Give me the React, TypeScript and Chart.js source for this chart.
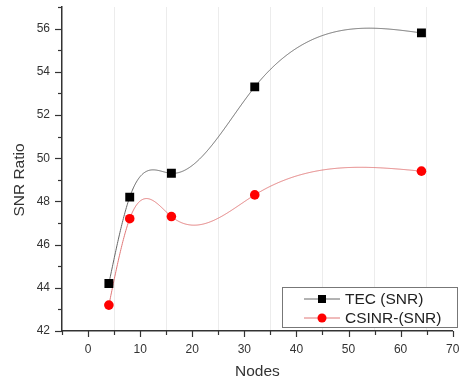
import React, { useEffect, useRef } from "react";
import { Chart, registerables } from "chart.js";

Chart.register(...registerables);

const nodes = [4, 8, 16, 32, 64];
const tecSNR = [44.2, 48.2, 49.3, 53.3, 55.8];
const csinrSNR = [43.2, 47.2, 47.3, 48.3, 49.4];
const seriesLabels = ["TEC (SNR)", "CSINR-(SNR)"];
const xTitle = "Nodes";
const yTitle = "SNR Ratio";

const FONT = "Arial, 'Liberation Sans', sans-serif";

function naturalSpline(xs: number[], ys: number[]) {
  const n = xs.length;
  const h: number[] = [];
  for (let i = 0; i < n - 1; i++) h.push(xs[i + 1] - xs[i]);
  const a: number[] = new Array(n).fill(0);
  const b: number[] = new Array(n).fill(1);
  const c: number[] = new Array(n).fill(0);
  const d: number[] = new Array(n).fill(0);
  for (let i = 1; i < n - 1; i++) {
    a[i] = h[i - 1];
    b[i] = 2 * (h[i - 1] + h[i]);
    c[i] = h[i];
    d[i] = 6 * ((ys[i + 1] - ys[i]) / h[i] - (ys[i] - ys[i - 1]) / h[i - 1]);
  }
  const cp = new Array(n).fill(0);
  const dp = new Array(n).fill(0);
  cp[0] = c[0] / b[0];
  dp[0] = d[0] / b[0];
  for (let i = 1; i < n; i++) {
    const m = b[i] - a[i] * cp[i - 1];
    cp[i] = c[i] / m;
    dp[i] = (d[i] - a[i] * dp[i - 1]) / m;
  }
  const M = new Array(n).fill(0);
  M[n - 1] = dp[n - 1];
  for (let i = n - 2; i >= 0; i--) M[i] = dp[i] - cp[i] * M[i + 1];
  return (x: number) => {
    let i = 0;
    while (i < n - 2 && x > xs[i + 1]) i++;
    const hi = h[i];
    const A = (xs[i + 1] - x) / hi;
    const B = (x - xs[i]) / hi;
    return (
      A * ys[i] +
      B * ys[i + 1] +
      ((A * A * A - A) * M[i] + (B * B * B - B) * M[i + 1]) * (hi * hi) / 6
    );
  };
}

const splinePlugin = {
  id: "splineLines",
  beforeDatasetsDraw(chart: any) {
    const ctx = chart.ctx;
    const area = chart.chartArea;
    ctx.save();
    ctx.beginPath();
    ctx.rect(area.left, area.top, area.right - area.left, area.bottom - area.top);
    ctx.clip();
    chart.data.datasets.forEach((ds: any, i: number) => {
      const meta = chart.getDatasetMeta(i);
      const pts = meta.data.map((p: any) => ({ x: p.x, y: p.y }));
      if (pts.length < 2) return;
      const f = naturalSpline(
        pts.map((p: any) => p.x),
        pts.map((p: any) => p.y)
      );
      ctx.beginPath();
      ctx.strokeStyle = ds.lineColor;
      ctx.lineWidth = 1;
      const x0 = pts[0].x;
      const x1 = pts[pts.length - 1].x;
      ctx.moveTo(x0, pts[0].y);
      for (let x = x0; x <= x1; x += 0.5) ctx.lineTo(x, f(x));
      ctx.lineTo(x1, pts[pts.length - 1].y);
      ctx.stroke();
    });
    ctx.restore();
  },
};

const decorPlugin = {
  id: "decor",
  afterDraw(chart: any) {
    const ctx = chart.ctx;
    const area = chart.chartArea;
    const xs = chart.scales.x;
    const ys = chart.scales.y;
    ctx.save();
    ctx.strokeStyle = "#333";
    ctx.lineWidth = 1.2;
    for (let v = ys.min; v <= ys.max + 1e-9; v += 1) {
      const y = Math.round(ys.getPixelForValue(v)) + 0.5;
      const len = v % 2 === 0 ? 7 : 4;
      ctx.beginPath();
      ctx.moveTo(area.left - len, y);
      ctx.lineTo(area.left, y);
      ctx.stroke();
    }
    for (let v = xs.min; v <= xs.max + 1e-9; v += 5) {
      const x = Math.round(xs.getPixelForValue(v)) + 0.5;
      const len = v % 10 === 0 ? 6 : 4;
      ctx.beginPath();
      ctx.moveTo(x, area.bottom);
      ctx.lineTo(x, area.bottom + len);
      ctx.stroke();
    }
    ctx.fillStyle = "#333";
    ctx.font = `15.5px ${FONT}`;
    ctx.textAlign = "center";
    ctx.textBaseline = "middle";
    ctx.fillText(xTitle, (area.left + area.right) / 2, 372);
    ctx.save();
    ctx.translate(20, 180);
    ctx.rotate(-Math.PI / 2);
    ctx.fillText(yTitle, 0, 0);
    ctx.restore();

    const lx = 282, ly = 287, lw = 175, lh = 40;
    ctx.fillStyle = "#fff";
    ctx.fillRect(lx, ly, lw, lh);
    ctx.strokeStyle = "#777";
    ctx.lineWidth = 1;
    ctx.strokeRect(lx + 0.5, ly + 0.5, lw, lh);
    chart.data.datasets.forEach((ds: any, i: number) => {
      const y = ly + 12 + i * 19;
      ctx.strokeStyle = ds.lineColor;
      ctx.lineWidth = 1;
      ctx.beginPath();
      ctx.moveTo(304, y);
      ctx.lineTo(340, y);
      ctx.stroke();
      ctx.fillStyle = ds.pointBackgroundColor;
      if (ds.pointStyle === "rect") {
        ctx.fillRect(322 - 4, y - 4, 8, 8);
      } else {
        ctx.beginPath();
        ctx.arc(322, y, 4.5, 0, Math.PI * 2);
        ctx.fill();
      }
      ctx.fillStyle = "#222";
      ctx.font = `15.5px ${FONT}`;
      ctx.textAlign = "left";
      ctx.textBaseline = "middle";
      ctx.fillText(ds.label, 345, y + 1);
    });
    ctx.restore();
  },
};

const zeroPad = () => ({ left: 0, top: 0, right: 0, bottom: 0 });

export default function App() {
  const ref = useRef<HTMLCanvasElement>(null);
  useEffect(() => {
    document.body.style.margin = "0";
    const canvas = ref.current!;
    const chart = new Chart(canvas, {
      type: "line",
      data: {
        datasets: [
          {
            label: seriesLabels[0],
            data: nodes.map((x, i) => ({ x, y: tecSNR[i] })),
            showLine: false,
            pointStyle: "rect",
            pointRadius: 6.3,
            pointBackgroundColor: "#000",
            pointBorderWidth: 0,
            lineColor: "#666",
          } as any,
          {
            label: seriesLabels[1],
            data: nodes.map((x, i) => ({ x, y: csinrSNR[i] })),
            showLine: false,
            pointStyle: "circle",
            pointRadius: 4.8,
            pointBackgroundColor: "#f00",
            pointBorderWidth: 0,
            lineColor: "#e07777",
          } as any,
        ],
      },
      options: {
        responsive: false,
        animation: false,
        layout: { padding: { top: 7, right: 4, left: 0, bottom: 0 } },
        plugins: { legend: { display: false }, tooltip: { enabled: false } },
        scales: {
          x: {
            type: "linear",
            min: -5,
            max: 70,
            afterBuildTicks: (s: any) => {
              const t = [];
              for (let v = -5; v <= 70; v += 5) t.push({ value: v });
              s.ticks = t;
            },
            afterFit: (s: any) => {
              s.height = 52;
              s.paddingLeft = 0;
              s.paddingRight = 0;
              s.getPadding = zeroPad;
            },
            border: { display: true, color: "#333", width: 1.5 },
            grid: {
              drawTicks: false,
              color: (c: any) =>
                c.tick && Math.abs(c.tick.value % 10) === 5 && c.tick.value > 0
                  ? "#ececec"
                  : "rgba(0,0,0,0)",
              lineWidth: 1,
            },
            ticks: {
              autoSkip: false,
              maxRotation: 0,
              padding: 11,
              color: "#333",
              font: { family: FONT, size: 12 },
              callback: (v: any) => (Number(v) % 10 === 0 ? String(v) : ""),
            },
          },
          y: {
            type: "linear",
            min: 42,
            max: 57,
            afterBuildTicks: (s: any) => {
              const t = [];
              for (let v = 42; v <= 57; v += 1) t.push({ value: v });
              s.ticks = t;
            },
            afterFit: (s: any) => {
              s.width = 62;
              s.paddingTop = 0;
              s.paddingBottom = 0;
              s.getPadding = zeroPad;
            },
            border: { display: true, color: "#333", width: 1.5 },
            grid: { display: true, drawOnChartArea: false, drawTicks: false },
            ticks: {
              autoSkip: false,
              padding: 12,
              color: "#333",
              font: { family: FONT, size: 12 },
              callback: (v: any) => (Number(v) % 2 === 0 ? String(v) : ""),
            },
          },
        },
      },
      plugins: [splinePlugin, decorPlugin],
    } as any);
    return () => chart.destroy();
  }, []);
  return <canvas ref={ref} width={459} height={383} style={{ display: "block" }} />;
}
